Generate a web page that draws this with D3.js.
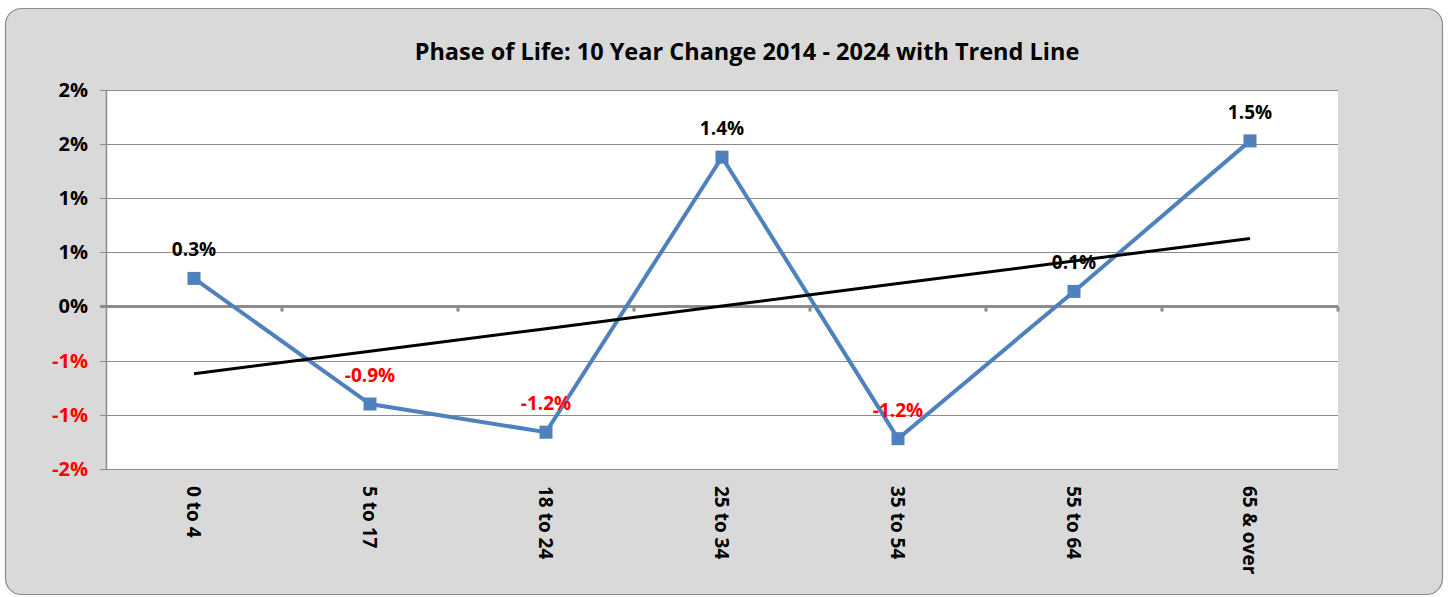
<!DOCTYPE html>
<html>
<head>
<meta charset="utf-8">
<script src="https://cdn.jsdelivr.net/npm/d3@7"></script>
<style>
  body { margin: 0; background: #fff; }
  svg { display: block; font-family: "Open Sans", Lato, sans-serif; }
</style>
</head>
<body>
<svg id="chart"></svg>
<script>
const categories = ["0 to 4", "5 to 17", "18 to 24", "25 to 34", "35 to 54", "55 to 64", "65 & over"];
const changes = [0.26, -0.90, -1.16, 1.38, -1.22, 0.14, 1.53];
const yTicks = [-1.5, -1.0, -0.5, 0, 0.5, 1.0, 1.5, 2.0];

const width = 1448;
const height = 597;
const margin = { top: 90, right: 110, bottom: 128, left: 106 };
const font = "'Open Sans', Lato, sans-serif";

const svg = d3.select("#chart")
    .attr("width", width)
    .attr("height", height);

// outer frame
svg.append("rect")
    .attr("x", 5.5).attr("y", 8.5)
    .attr("width", 1437).attr("height", 586)
    .attr("rx", 16)
    .attr("fill", "#d9d9d9")
    .attr("stroke", "#8c8c8c")
    .attr("stroke-width", 1.2);

svg.append("text")
    .attr("x", 747).attr("y", 60)
    .attr("text-anchor", "middle")
    .style("font-size", "23.5px")
    .style("font-weight", "bold")
    .text("Phase of Life: 10 Year Change 2014 - 2024 with Trend Line");

const xScale = d3.scaleBand()
    .domain(categories)
    .range([margin.left, width - margin.right]);

const yScale = d3.scaleLinear()
    .domain([-1.5, 2.0])
    .range([height - margin.bottom, margin.top]);

// plot area
svg.append("rect")
    .attr("x", margin.left).attr("y", margin.top)
    .attr("width", width - margin.left - margin.right)
    .attr("height", height - margin.top - margin.bottom)
    .attr("fill", "#fff");

// gridlines
svg.append("g")
    .selectAll("line")
    .data(yTicks.filter(d => d !== 0))
    .join("line")
    .attr("x1", margin.left - 6).attr("x2", width - margin.right)
    .attr("y1", d => Math.round(yScale(d)) + 0.5)
    .attr("y2", d => Math.round(yScale(d)) + 0.5)
    .attr("stroke", "#8c8c8c")
    .attr("stroke-width", 1.2);

// y axis
const yAxis = svg.append("g")
    .attr("transform", `translate(${margin.left}, 0)`)
    .call(d3.axisLeft(yScale).tickValues(yTicks).tickSize(0).tickPadding(18)
        .tickFormat(d => `${d < 0 ? "-" : ""}${Math.round(Math.abs(d))}%`));
yAxis.select(".domain").attr("stroke", "#8c8c8c").attr("stroke-width", 1.5);
yAxis.selectAll("text")
    .style("font-size", "20px")
    .style("font-weight", "bold")
    .style("font-family", font)
    .attr("fill", d => d < 0 ? "#ff0000" : "#000");

// zero axis with category ticks
const y0 = yScale(0);
svg.append("line")
    .attr("x1", margin.left - 6).attr("x2", width - margin.right)
    .attr("y1", y0).attr("y2", y0)
    .attr("stroke", "#8c8c8c")
    .attr("stroke-width", 3);
svg.append("g")
    .selectAll("line")
    .data(categories)
    .join("line")
    .attr("x1", d => xScale(d) + xScale.bandwidth())
    .attr("x2", d => xScale(d) + xScale.bandwidth())
    .attr("y1", y0).attr("y2", y0 + 5)
    .attr("stroke", "#8c8c8c")
    .attr("stroke-width", 3);

// category labels (rotated)
svg.append("g")
    .selectAll("text")
    .data(categories)
    .join("text")
    .attr("transform", d => `translate(${xScale(d) + xScale.bandwidth() / 2}, ${height - margin.bottom + 17}) rotate(90)`)
    .attr("dy", "0.35em")
    .style("font-size", "19px")
    .style("font-weight", "bold")
    .text(d => d);

const cx = (d, i) => xScale(categories[i]) + xScale.bandwidth() / 2;

// series line
svg.append("path")
    .datum(changes)
    .attr("fill", "none")
    .attr("stroke", "#4f81bd")
    .attr("stroke-width", 4)
    .attr("d", d3.line().x(cx).y(d => yScale(d)));

// trend line (least squares)
const xs = changes.map((d, i) => i + 1);
const mx = d3.mean(xs);
const my = d3.mean(changes);
const slope = d3.sum(xs, (x, i) => (x - mx) * (changes[i] - my)) / d3.sum(xs, x => (x - mx) ** 2);
const intercept = my - slope * mx;
const trend = xs.map(x => intercept + slope * x);

svg.append("path")
    .datum(trend)
    .attr("fill", "none")
    .attr("stroke", "#000")
    .attr("stroke-width", 3)
    .attr("d", d3.line().x(cx).y(d => yScale(d)));

// markers
svg.append("g")
    .selectAll("rect")
    .data(changes)
    .join("rect")
    .attr("x", (d, i) => cx(d, i) - 6.5)
    .attr("y", d => yScale(d) - 6.5)
    .attr("width", 13).attr("height", 13)
    .attr("fill", "#4f81bd");

// data labels
svg.append("g")
    .selectAll("text")
    .data(changes)
    .join("text")
    .attr("x", cx)
    .attr("y", d => yScale(d) - 22)
    .attr("text-anchor", "middle")
    .style("font-size", "19px")
    .style("font-weight", "bold")
    .attr("fill", d => d < 0 ? "#ff0000" : "#000")
    .text(d => `${d.toFixed(1)}%`);
</script>
</body>
</html>
